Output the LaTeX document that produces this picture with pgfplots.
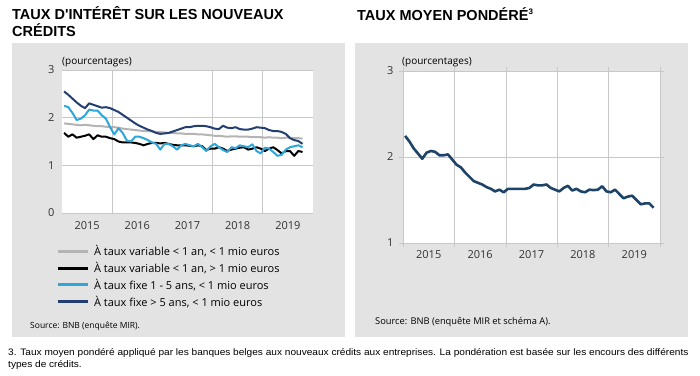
\documentclass[border=0pt]{standalone}
\usepackage{pgfplots}
\pgfplotsset{compat=1.18}
\usepackage{pgfplotstable}
\usepackage{fontspec}
\setmainfont{Open Sans}
\newfontfamily\titlefont{Liberation Sans}
\definecolor{boxgray}{HTML}{E3E3E3}
\definecolor{gridgray}{HTML}{C8C8C8}
\definecolor{sergray}{HTML}{B4B4B4}
\definecolor{lightblue}{HTML}{2FA6DA}
\definecolor{darkblue}{HTML}{233F72}
\definecolor{rightblue}{HTML}{1D4468}

\pgfplotstableread{
m gray black light dark
0.5 1.88 1.68 2.25 2.55
1.5 1.87 1.60 2.22 2.48
2.5 1.86 1.65 2.10 2.40
3.5 1.85 1.58 1.95 2.32
4.5 1.84 1.60 1.98 2.25
5.5 1.85 1.62 2.05 2.20
6.5 1.84 1.65 2.17 2.30
7.5 1.83 1.55 2.15 2.27
8.5 1.82 1.63 2.15 2.24
9.5 1.82 1.60 2.05 2.21
10.5 1.81 1.60 1.98 2.22
11.5 1.80 1.57 1.80 2.20
12.5 1.80 1.55 1.65 2.16
13.5 1.79 1.50 1.78 2.12
14.5 1.77 1.48 1.68 2.06
15.5 1.76 1.48 1.52 2.00
16.5 1.75 1.48 1.50 1.94
17.5 1.74 1.47 1.60 1.88
18.5 1.73 1.45 1.60 1.83
19.5 1.72 1.42 1.57 1.79
20.5 1.72 1.45 1.53 1.75
21.5 1.71 1.47 1.48 1.72
22.5 1.70 1.47 1.45 1.68
23.5 1.70 1.46 1.33 1.66
24.5 1.69 1.47 1.45 1.67
25.5 1.68 1.45 1.45 1.68
26.5 1.68 1.43 1.40 1.71
27.5 1.67 1.42 1.33 1.74
28.5 1.67 1.42 1.42 1.77
29.5 1.66 1.42 1.45 1.80
30.5 1.66 1.41 1.42 1.80
31.5 1.66 1.40 1.40 1.82
32.5 1.65 1.42 1.45 1.83
33.5 1.65 1.40 1.38 1.83
34.5 1.64 1.32 1.30 1.82
35.5 1.63 1.35 1.40 1.80
36.5 1.62 1.35 1.45 1.77
37.5 1.62 1.38 1.38 1.76
38.5 1.61 1.35 1.32 1.83
39.5 1.60 1.30 1.28 1.79
40.5 1.61 1.33 1.38 1.78
41.5 1.61 1.35 1.36 1.80
42.5 1.60 1.37 1.42 1.76
43.5 1.60 1.38 1.40 1.75
44.5 1.60 1.33 1.38 1.75
45.5 1.59 1.35 1.44 1.77
46.5 1.59 1.38 1.30 1.80
47.5 1.59 1.35 1.25 1.79
48.5 1.58 1.30 1.37 1.78
49.5 1.59 1.35 1.35 1.74
50.5 1.58 1.38 1.28 1.72
51.5 1.58 1.32 1.20 1.72
52.5 1.57 1.25 1.22 1.70
53.5 1.58 1.30 1.33 1.66
54.5 1.58 1.30 1.38 1.57
55.5 1.57 1.20 1.40 1.53
56.5 1.57 1.30 1.42 1.51
57.5 1.56 1.28 1.38 1.45
}\lefttable

\pgfplotstableread{
m rate
0.5 2.245
1.5 2.18
2.5 2.10
3.5 2.04
4.5 1.98
5.5 2.05
6.5 2.07
7.5 2.06
8.5 2.02
9.5 2.02
10.5 2.03
11.5 1.97
12.5 1.91
13.5 1.88
14.5 1.82
15.5 1.77
16.5 1.72
17.5 1.70
18.5 1.68
19.5 1.65
20.5 1.63
21.5 1.60
22.5 1.62
23.5 1.59
24.5 1.63
25.5 1.63
26.5 1.63
27.5 1.63
28.5 1.63
29.5 1.64
30.5 1.68
31.5 1.67
32.5 1.67
33.5 1.68
34.5 1.64
35.5 1.62
36.5 1.60
37.5 1.64
38.5 1.665
39.5 1.61
40.5 1.63
41.5 1.60
42.5 1.59
43.5 1.62
44.5 1.615
45.5 1.62
46.5 1.66
47.5 1.60
48.5 1.59
49.5 1.62
50.5 1.57
51.5 1.52
52.5 1.54
53.5 1.55
54.5 1.50
55.5 1.45
56.5 1.46
57.5 1.46
58.5 1.41
}\righttable

\begin{document}
\begin{tikzpicture}[x=1pt,y=1pt]
\path[use as bounding box] (0,0) rectangle (700,375);
\coordinate (LA) at (62,162);
\coordinate (RA) at (403,132);
\fill[boxgray] (12,38) rectangle (345,332);
\fill[boxgray] (355,38) rectangle (688,332);
% titles
\node[anchor=base west, inner sep=0, font=\titlefont\bfseries\fontsize{14.5}{16}\selectfont] at (12,355) {TAUX D'INTÉRÊT SUR LES NOUVEAUX};
\node[anchor=base west, inner sep=0, font=\titlefont\bfseries\fontsize{14.5}{16}\selectfont] at (12,338.5) {CRÉDITS};
\node[anchor=base west, inner sep=0, font=\titlefont\bfseries\fontsize{14.5}{16}\selectfont] at (357,354.5) {TAUX MOYEN PONDÉRÉ\raisebox{5.5pt}{\fontsize{8}{8}\selectfont 3}};
% units
\node[anchor=west, inner sep=0, font=\fontsize{10}{12}\selectfont] at (62,313) {(pourcentages)};
\node[anchor=west, inner sep=0, font=\fontsize{10}{12}\selectfont] at (402,313) {(pourcentages)};
% sources
\node[anchor=base west, inner sep=0, font=\fontsize{8.5}{10}\selectfont] at (30,47) {Source: BNB (enquête MIR).};
\node[anchor=base west, inner sep=0, font=\fontsize{9.3}{10}\selectfont] at (375,51) {Source: BNB (enquête MIR et schéma A).};
% footnote
\node[anchor=base west, inner sep=0, font=\titlefont\fontsize{9.4}{10}\selectfont] at (8,20) {\scalebox{1.075}[1]{3. Taux moyen pondéré appliqué par les banques belges aux nouveaux crédits aux entreprises. La pondération est basée sur les encours des différents}};
\node[anchor=base west, inner sep=0, font=\titlefont\fontsize{9.4}{10}\selectfont] at (8,8) {\scalebox{1.075}[1]{types de crédits.}};

\begin{axis}[
  at={(LA)}, anchor=south west,
  scale only axis, width=251pt, height=143pt,
  xmin=0, xmax=60, ymin=0, ymax=3,
  axis background/.style={fill=white},
  axis line style={draw=none},
  /pgf/number format/assume math mode=true,
  xtick={6,18,30,42,54}, xticklabels={2015,2016,2017,2018,2019},
  ytick={0,1,2,3},
  major tick length=0pt,
  ymajorgrids, grid style={gridgray, line width=0.6pt},
  extra x ticks={12,36,48}, extra x tick labels={},
  extra x tick style={grid=major},
  tick label style={font=\fontsize{11}{12}\selectfont, text=black!80},
  yticklabel style={xshift=-4pt},
  xticklabel style={yshift=-5pt},
  clip=false,
  legend style={draw=none, fill=none, at={(-0.024,-0.21)}, anchor=north west,
    font=\fontsize{11}{12}\selectfont, row sep=1.2pt, inner sep=0pt,
    /tikz/every odd column/.append style={column sep=3pt}},
  legend cell align=left,
  legend image code/.code={\draw[#1, line width=3pt] (0pt,0pt) -- (30pt,0pt);},
]
\addplot[sergray, line width=2pt, line join=round] table[x=m, y=gray] {\lefttable};
\addlegendentry{À taux variable < 1 an, < 1 mio euros}
\addplot[black, line width=2pt, line join=round] table[x=m, y=black] {\lefttable};
\addlegendentry{À taux variable < 1 an, > 1 mio euros}
\addplot[lightblue, line width=2pt, line join=round] table[x=m, y=light] {\lefttable};
\addlegendentry{À taux fixe 1 - 5 ans, < 1 mio euros}
\addplot[darkblue, line width=2pt, line join=round] table[x=m, y=dark] {\lefttable};
\addlegendentry{À taux fixe > 5 ans, < 1 mio euros}
\end{axis}

\begin{axis}[
  at={(RA)}, anchor=south west,
  scale only axis, width=257pt, height=172pt,
  xmin=0, xmax=60, ymin=1, ymax=3,
  axis background/.style={fill=white},
  axis line style={draw=none},
  /pgf/number format/assume math mode=true,
  xtick={6,18,30,42,54}, xticklabels={2015,2016,2017,2018,2019},
  ytick={1,2,3},
  major tick length=0pt,
  ymajorgrids, grid style={gridgray, line width=0.6pt},
  extra x ticks={0,12,24,36,48,60}, extra x tick labels={},
  extra x tick style={grid=major, major tick length=4pt, tick align=outside, tick style={gridgray, line width=0.6pt}},
  extra y ticks={1,2,3}, extra y tick labels={},
  extra y tick style={major tick length=4pt, tick align=outside, tick style={gridgray, line width=0.6pt}},
  tick label style={font=\fontsize{11}{12}\selectfont, text=black!80},
  yticklabel style={xshift=-6pt},
  xticklabel style={yshift=-4pt},
]
\draw[gridgray, line width=0.8pt] (rel axis cs:0,0) -- (rel axis cs:0,1);
\addplot[rightblue, line width=2.6pt, line join=round] table[x=m, y=rate] {\righttable};
\end{axis}
\end{tikzpicture}
\end{document}
